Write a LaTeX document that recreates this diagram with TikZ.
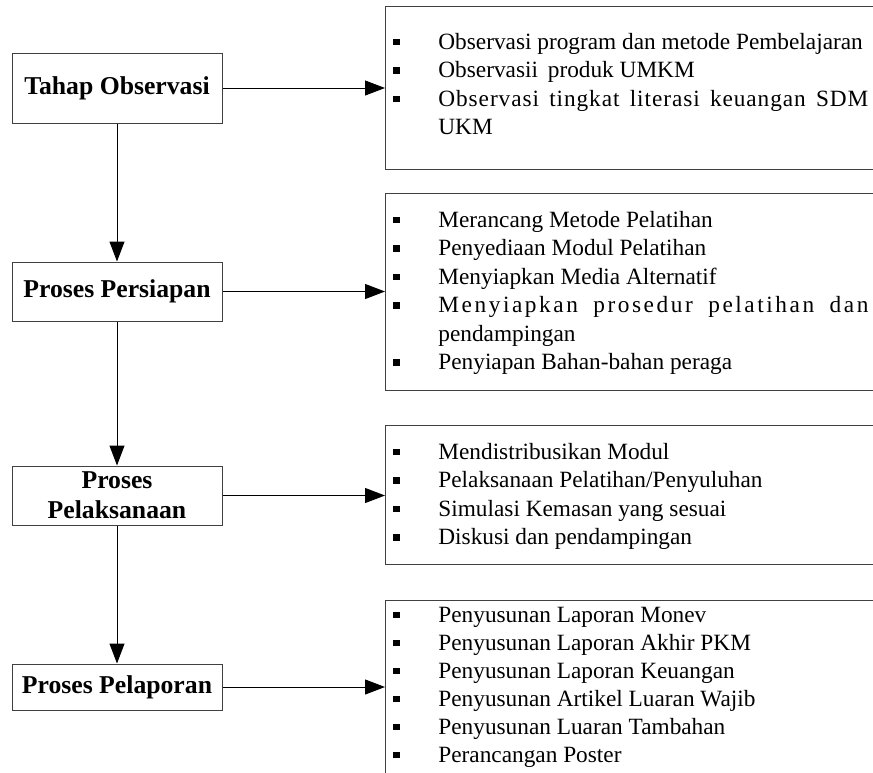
\documentclass[tikz,border=0pt]{standalone}
\usepackage{fontspec}
\setmainfont{Liberation Serif}
\usetikzlibrary{arrows.meta}
\newcommand{\blt}{\makebox[26.5pt][l]{\hspace{4pt}\rule[1.9pt]{3.3pt}{3.3pt}}}
\newcommand{\cnt}{\hspace*{26.5pt}}

\begin{document}
\begin{tikzpicture}[x=0.5pt,y=-0.5pt,
  stage/.style={draw=black!75, line width=0.5pt, minimum width=105pt, inner sep=1pt,
    font=\fontsize{12.85}{15}\selectfont\bfseries},
  panel/.style={draw=black!75, line width=0.5pt, minimum width=260pt, anchor=north west, inner sep=0pt},
  items/.style={anchor=base west, inner sep=0pt, font=\fontsize{11.65}{14.25}\selectfont},
  flow/.style={-{Triangle[length=10pt,width=7.5pt]}, line width=0.5pt}]
\useasboundingbox (0,0) rectangle (873,772);
\clip (0,0) rectangle (873,772);

% stages on the left
\node[stage, minimum height=35pt] (obs) at (117,88) {Tahap Observasi};
\node[stage, minimum height=29.5pt] (prep) at (117,291.5) {Proses Persiapan};
\node[stage, minimum height=29.5pt, align=center] (exec) at (117,495.5) {Proses\\Pelaksanaan};
\node[stage, minimum height=23pt] (rep) at (117,687) {Proses Pelaporan};

% boxes on the right
\node[panel, minimum height=81.5pt] (obsbox) at (385,6) {};
\node[panel, minimum height=98.5pt] (prepbox) at (385,193) {};
\node[panel, minimum height=69.5pt] (execbox) at (385,425) {};
\node[panel, minimum height=120pt] (repbox) at (385,600) {};

\node[items] (obslist) at (385,49) {\begin{tabular}[t]{@{}l@{}}
  \blt Observasi program dan metode Pembelajaran\\
  \blt Observasii\hspace{2pt} produk UMKM\\
  \blt\makebox[215pt][s]{\addfontfeature{LetterSpace=4}Observasi tingkat literasi keuangan SDM}\\
  \cnt UKM
\end{tabular}};
\node[items] (preplist) at (385,227) {\begin{tabular}[t]{@{}l@{}}
  \blt Merancang Metode Pelatihan\\
  \blt Penyediaan Modul Pelatihan\\
  \blt Menyiapkan Media Alternatif\\
  \blt\makebox[215pt][s]{\addfontfeature{LetterSpace=11}Menyiapkan prosedur pelatihan dan}\\
  \cnt pendampingan\\
  \blt Penyiapan Bahan-bahan peraga
\end{tabular}};
\node[items] (execlist) at (385,459) {\begin{tabular}[t]{@{}l@{}}
  \blt Mendistribusikan Modul\\
  \blt Pelaksanaan Pelatihan/Penyuluhan\\
  \blt Simulasi Kemasan yang sesuai\\
  \blt Diskusi dan pendampingan
\end{tabular}};
\node[items, font=\fontsize{11.65}{14}\selectfont] (replist) at (385,622) {\begin{tabular}[t]{@{}l@{}}
  \blt Penyusunan Laporan Monev\\
  \blt Penyusunan Laporan Akhir PKM\\
  \blt Penyusunan Laporan Keuangan\\
  \blt Penyusunan Artikel Luaran Wajib\\
  \blt Penyusunan Luaran Tambahan\\
  \blt Perancangan Poster
\end{tabular}};

% arrows
\draw[flow] (obs) -- (prep);
\draw[flow] (prep) -- (exec);
\draw[flow] (exec) -- (rep);
\draw[flow] (obs.east) -- (obs.east -| obsbox.west);
\draw[flow] (prep.east) -- (prep.east -| prepbox.west);
\draw[flow] (exec.east) -- (exec.east -| execbox.west);
\draw[flow] (rep.east) -- (rep.east -| repbox.west);
\end{tikzpicture}
\end{document}
